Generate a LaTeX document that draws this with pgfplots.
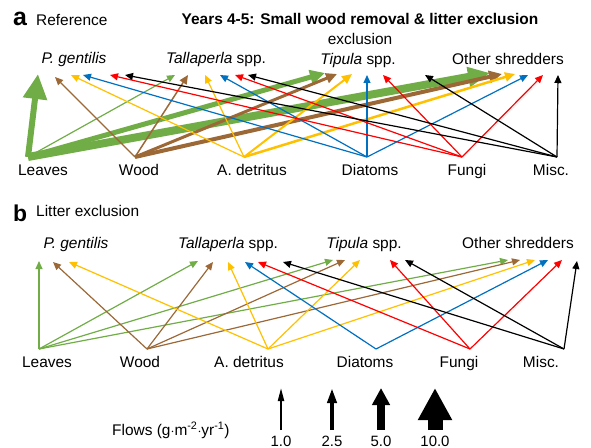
\documentclass[border=0pt]{standalone}
\usepackage{pgfplots}
\pgfplotsset{compat=1.18}
\usepackage{fontspec}
\setmainfont{Liberation Sans}
\usetikzlibrary{arrows.meta}
\definecolor{cG}{RGB}{112,173,71}
\definecolor{cB}{RGB}{156,104,54}
\definecolor{cY}{RGB}{255,192,0}
\definecolor{cU}{RGB}{0,112,192}
\definecolor{cR}{RGB}{255,0,0}
\definecolor{cK}{RGB}{0,0,0}
% flow: color, line width, head length, head width, x1,y1,x2,y2
\newcommand{\fl}[8]{\addplot[color=#1, line width=#2bp, -{Triangle[length=#3bp,width=#4bp]}] coordinates {(#5,#6) (#7,#8)};}
\newcommand{\tn}[5]{\fl{#1}{1.2}{8}{7}{#2}{#3}{#4}{#5}}
\tikzset{t/.style={font=\fontsize{15.5}{18}\selectfont, inner sep=0pt}}
\begin{document}
\fontsize{15.5}{18}\selectfont
\begin{tikzpicture}
\begin{axis}[scale only axis, width=591bp, height=448bp,
  xmin=0, xmax=591, ymin=0, ymax=448, y dir=reverse,
  hide axis, clip=false]
% ---------- Panel a ----------
% Leaves (28,157)
\fl{cG}{6}{25}{23}{28}{157}{38}{74}
\tn{cG}{28}{157}{175}{75}
\fl{cG}{5}{15}{14}{28}{157}{325}{73}
\fl{cG}{8}{22}{19}{28}{157}{490}{73}
% Wood (135,157)
\tn{cB}{135}{157}{55}{77}
\fl{cB}{1.5}{9}{8}{135}{157}{188}{75}
\fl{cB}{3}{11}{10}{135}{157}{337}{74}
\fl{cB}{4}{13}{12}{135}{157}{502}{74}
% A. detritus (244,157)
\tn{cY}{244}{157}{71}{75}
\tn{cY}{244}{157}{205}{75}
\fl{cY}{2}{10}{9}{244}{157}{352}{74}
\fl{cY}{2.5}{10}{9}{244}{157}{515}{74}
% Diatoms (367,157)
\tn{cU}{367}{157}{83}{75}
\tn{cU}{367}{157}{220}{75}
\tn{cU}{367}{157}{367}{75}
\tn{cU}{367}{157}{528}{75}
% Fungi (462,157)
\tn{cR}{462}{157}{110}{75}
\tn{cR}{462}{157}{235}{75}
\tn{cR}{462}{157}{383}{75}
\tn{cR}{462}{157}{543}{75}
% Misc (557,157)
\tn{cK}{557}{157}{125}{75}
\tn{cK}{557}{157}{248}{75}
\tn{cK}{557}{157}{425}{75}
\tn{cK}{557}{157}{558}{75}
% ---------- Panel b ----------
\tn{cG}{39}{349}{39}{261}
\tn{cG}{39}{349}{198}{261}
\tn{cG}{39}{349}{333}{260}
\tn{cG}{39}{349}{508}{260}
\tn{cB}{147}{349}{53}{262}
\tn{cB}{147}{349}{213}{262}
\tn{cB}{147}{349}{345}{260}
\tn{cB}{147}{349}{520}{260}
\tn{cY}{268}{349}{69}{262}
\tn{cY}{268}{349}{228}{262}
\tn{cY}{268}{349}{360}{260}
\tn{cY}{268}{349}{535}{260}
\tn{cU}{376}{349}{245}{262}
\tn{cU}{376}{349}{548}{260}
\tn{cR}{470}{349}{258}{262}
\tn{cR}{470}{349}{390}{260}
\tn{cR}{470}{349}{562}{260}
\tn{cK}{564}{349}{283}{262}
\tn{cK}{564}{349}{405}{260}
\tn{cK}{564}{349}{577}{261}
% ---------- Legend arrows ----------
\fl{cK}{2}{13}{6}{281}{430}{281}{388}
\fl{cK}{4}{15}{9}{332}{430}{332}{388}
\fl{cK}{8}{17}{17}{381}{430}{381}{388}
\fl{cK}{15}{32}{32}{435}{430}{435}{388}
% ---------- Texts ----------
\node[inner sep=0pt, anchor=base west, font=\fontsize{25}{28}\selectfont\bfseries] at (axis cs:13,26) {a};
\node[t, anchor=base west] at (axis cs:36,26) {Reference};
\node[inner sep=0pt, anchor=base, font=\fontsize{15.5}{18}\selectfont\bfseries] at (axis cs:360,25) {Years 4-5: Small wood removal \& litter exclusion};
\node[t, anchor=base] at (axis cs:360,45) {exclusion};
\node[t, anchor=base] at (axis cs:74,64) {\textit{P. gentilis}};
\node[t, anchor=base] at (axis cs:216,64) {\textit{Tallaperla} spp.};
\node[t, anchor=base] at (axis cs:358,65) {\textit{Tipula} spp.};
\node[t, anchor=base] at (axis cs:508,65) {Other shredders};
\node[t, anchor=base] at (axis cs:43,175) {Leaves};
\node[t, anchor=base] at (axis cs:139,175) {Wood};
\node[t, anchor=base] at (axis cs:252,175) {A. detritus};
\node[t, anchor=base] at (axis cs:370,175) {Diatoms};
\node[t, anchor=base] at (axis cs:467,175) {Fungi};
\node[t, anchor=base] at (axis cs:551,175) {Misc.};
\node[inner sep=0pt, anchor=base west, font=\fontsize{23}{26}\selectfont\bfseries] at (axis cs:13,221) {b};
\node[t, anchor=base west] at (axis cs:36,216) {Litter exclusion};
\node[t, anchor=base] at (axis cs:76,248) {\textit{P. gentilis}};
\node[t, anchor=base] at (axis cs:228,248) {\textit{Tallaperla} spp.};
\node[t, anchor=base] at (axis cs:364,248) {\textit{Tipula} spp.};
\node[t, anchor=base] at (axis cs:518,248) {Other shredders};
\node[t, anchor=base] at (axis cs:47,367) {Leaves};
\node[t, anchor=base] at (axis cs:140,367) {Wood};
\node[t, anchor=base] at (axis cs:249,367) {A. detritus};
\node[t, anchor=base] at (axis cs:365,367) {Diatoms};
\node[t, anchor=base] at (axis cs:459,367) {Fungi};
\node[t, anchor=base] at (axis cs:541,367) {Misc.};
\node[t, anchor=base west] at (axis cs:112,435) {Flows (g$\cdot$m\textsuperscript{-2}$\cdot$yr\textsuperscript{-1})};
\node[t, anchor=base, font=\fontsize{15}{17}\selectfont] at (axis cs:281,446) {1.0};
\node[t, anchor=base, font=\fontsize{15}{17}\selectfont] at (axis cs:332,446) {2.5};
\node[t, anchor=base, font=\fontsize{15}{17}\selectfont] at (axis cs:381,446) {5.0};
\node[t, anchor=base, font=\fontsize{15}{17}\selectfont] at (axis cs:435,446) {10.0};
\coordinate (BL) at (axis cs:0,448);
\coordinate (TR) at (axis cs:591,0);
\end{axis}
\pgfresetboundingbox
\path (BL) rectangle (TR);
\end{tikzpicture}
\end{document}
